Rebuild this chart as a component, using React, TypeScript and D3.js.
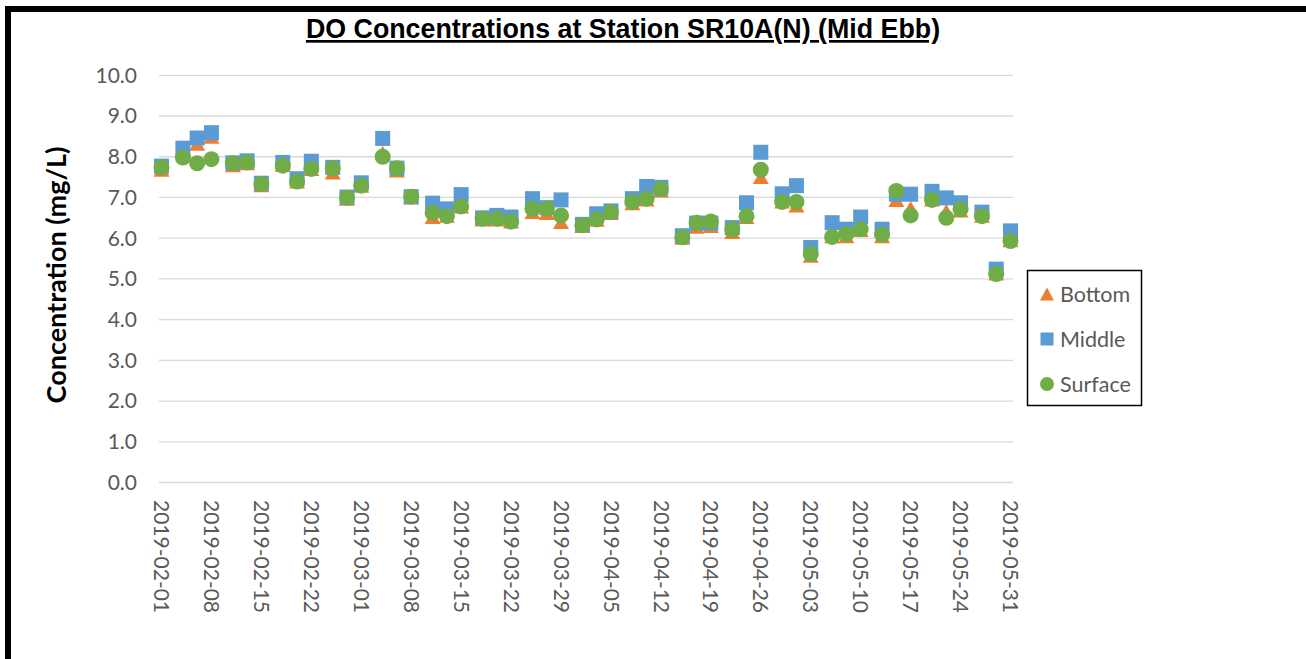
import React, { useEffect, useRef } from 'react';
import * as d3 from 'd3';

// Sampling dates (Mid Ebb) at station SR10A(N)
const dates = [
  '2019-02-01', '2019-02-04', '2019-02-06', '2019-02-08', '2019-02-11', '2019-02-13', '2019-02-15',
  '2019-02-18', '2019-02-20', '2019-02-22', '2019-02-25', '2019-02-27',
  '2019-03-01', '2019-03-04', '2019-03-06', '2019-03-08', '2019-03-11', '2019-03-13', '2019-03-15',
  '2019-03-18', '2019-03-20', '2019-03-22', '2019-03-25', '2019-03-27', '2019-03-29',
  '2019-04-01', '2019-04-03', '2019-04-05', '2019-04-08', '2019-04-10', '2019-04-12', '2019-04-15',
  '2019-04-17', '2019-04-19', '2019-04-22', '2019-04-24', '2019-04-26', '2019-04-29',
  '2019-05-01', '2019-05-03', '2019-05-06', '2019-05-08', '2019-05-10', '2019-05-13', '2019-05-15',
  '2019-05-17', '2019-05-20', '2019-05-22', '2019-05-24', '2019-05-27', '2019-05-29', '2019-05-31',
];

const bottom = [
  7.68, 8.2, 8.32, 8.49, 7.79, 7.84, 7.3, 7.8, 7.39, 7.7, 7.61, 6.97,
  7.29, 8.1, 7.66, 7.0, 6.52, 6.55, 6.78, 6.46, 6.46, 6.41, 6.64, 6.62, 6.4,
  6.3, 6.45, 6.62, 6.86, 6.95, 7.17, 6.01, 6.28, 6.3, 6.15, 6.52, 7.5, 6.9,
  6.8, 5.57, 6.05, 6.05, 6.2, 6.05, 6.94, 6.74, 6.95, 6.67, 6.68, 6.55, 5.13, 5.95,
];

const middle = [
  7.77, 8.21, 8.46, 8.59, 7.85, 7.9, 7.35, 7.86, 7.46, 7.89, 7.74, 7.01,
  7.36, 8.45, 7.72, 7.02, 6.86, 6.72, 7.07, 6.5, 6.56, 6.52, 6.97, 6.75, 6.94,
  6.34, 6.6, 6.67, 6.97, 7.27, 7.25, 6.06, 6.37, 6.37, 6.26, 6.87, 8.11, 7.09,
  7.29, 5.77, 6.38, 6.22, 6.52, 6.22, 7.08, 7.08, 7.15, 6.99, 6.87, 6.64, 5.24, 6.18,
];

const surface = [
  7.74, 7.98, 7.84, 7.94, 7.84, 7.86, 7.33, 7.78, 7.39, 7.7, 7.72, 6.99,
  7.29, 8.0, 7.72, 7.02, 6.62, 6.54, 6.78, 6.48, 6.48, 6.41, 6.72, 6.73, 6.56,
  6.32, 6.46, 6.64, 6.89, 6.97, 7.21, 6.02, 6.38, 6.41, 6.22, 6.54, 7.68, 6.89,
  6.89, 5.61, 6.03, 6.1, 6.22, 6.09, 7.16, 6.56, 6.94, 6.5, 6.71, 6.54, 5.12, 5.93,
];

const tickDates = [
  '2019-02-01', '2019-02-08', '2019-02-15', '2019-02-22', '2019-03-01', '2019-03-08', '2019-03-15',
  '2019-03-22', '2019-03-29', '2019-04-05', '2019-04-12', '2019-04-19', '2019-04-26', '2019-05-03',
  '2019-05-10', '2019-05-17', '2019-05-24', '2019-05-31',
];
const yTicks = [0, 1, 2, 3, 4, 5, 6, 7, 8, 9, 10];

const W = 1306;
const H = 659;
const FONT = 'Lato, sans-serif';
const TEXT = '#595959';

export default function App() {
  const svgRef = useRef<SVGSVGElement | null>(null);

  useEffect(() => {
    const parse = d3.utcParse('%Y-%m-%d');
    const svg = d3.select(svgRef.current);
    svg.selectAll('*').remove();
    svg.attr('width', W).attr('height', H);

    svg.append('rect').attr('width', W).attr('height', H).attr('fill', '#fff');
    // outer frame (runs off right/bottom edges)
    svg.append('rect').attr('x', 8).attr('y', 9).attr('width', W + 20).attr('height', H + 20)
      .attr('fill', 'none').attr('stroke', '#000').attr('stroke-width', 6);

    const x = d3.scaleUtc().domain([parse(dates[0])!, parse(dates[dates.length - 1])!]).range([161.5, 1010.5]);
    const y = d3.scaleLinear().domain([0, 10]).range([482.5, 75.3]);
    const gridX0 = 159;
    const gridX1 = 1013;

    // Grid
    svg.append('g').selectAll('line').data(yTicks).join('line')
      .attr('x1', gridX0).attr('x2', gridX1)
      .attr('y1', d => y(d)).attr('y2', d => y(d))
      .attr('stroke', '#d9d9d9').attr('stroke-width', 1.3);

    // Y tick labels
    svg.append('g').selectAll('text').data(yTicks).join('text')
      .attr('x', 137).attr('y', d => y(d)).attr('dy', '0.35em')
      .attr('text-anchor', 'end').attr('font-family', FONT).attr('font-size', 21).attr('fill', TEXT)
      .text(d => d.toFixed(1));

    // X tick labels (rotated)
    svg.append('g').selectAll('text').data(tickDates).join('text')
      .attr('transform', d => `translate(${x(parse(d)!)},500) rotate(90)`)
      .attr('dy', '0.35em').attr('text-anchor', 'start')
      .attr('font-family', FONT).attr('font-size', 21).attr('fill', TEXT)
      .text(d => d);

    const rows = dates.map((d, i) => ({ t: parse(d)!, b: bottom[i], m: middle[i], s: surface[i] }));
    const tri = (cx: number, cy: number, hw: number, hh: number) =>
      `M${cx},${cy - hh}L${cx + hw},${cy + hh}L${cx - hw},${cy + hh}Z`;

    // Bottom (triangles)
    svg.append('g').selectAll('path').data(rows).join('path')
      .attr('d', d => tri(x(d.t), y(d.b), 8, 7)).attr('fill', '#ed7d31');
    // Middle (squares)
    svg.append('g').selectAll('rect').data(rows).join('rect')
      .attr('x', d => x(d.t) - 7.5).attr('y', d => y(d.m) - 7.5)
      .attr('width', 15).attr('height', 15).attr('fill', '#5b9bd5');
    // Surface (circles)
    svg.append('g').selectAll('circle').data(rows).join('circle')
      .attr('cx', d => x(d.t)).attr('cy', d => y(d.s)).attr('r', 8).attr('fill', '#70ad47');

    // Title
    svg.append('text').attr('x', 623).attr('y', 38).attr('text-anchor', 'middle')
      .attr('font-family', '"Liberation Sans", Arial, sans-serif').attr('font-weight', 'bold')
      .attr('font-size', 26.8).attr('text-decoration', 'underline').attr('fill', '#000')
      .text('DO Concentrations at Station SR10A(N) (Mid Ebb)');

    // Y axis title
    svg.append('text').attr('transform', 'translate(57,275) rotate(-90)')
      .attr('text-anchor', 'middle').attr('dy', '0.35em')
      .attr('font-family', FONT).attr('font-weight', 'bold').attr('font-size', 27).attr('fill', '#000')
      .text('Concentration (mg/L)');

    // Legend
    const lg = svg.append('g');
    lg.append('rect').attr('x', 1027.5).attr('y', 270.5).attr('width', 114).attr('height', 135)
      .attr('fill', '#fff').attr('stroke', '#000').attr('stroke-width', 1.5);
    const items = [
      { name: 'Bottom', cy: 294, kind: 'tri', color: '#ed7d31' },
      { name: 'Middle', cy: 339, kind: 'sq', color: '#5b9bd5' },
      { name: 'Surface', cy: 384, kind: 'circ', color: '#70ad47' },
    ];
    items.forEach(it => {
      if (it.kind === 'tri') lg.append('path').attr('d', tri(1047, it.cy, 7, 6.5)).attr('fill', it.color);
      else if (it.kind === 'sq') lg.append('rect').attr('x', 1040.5).attr('y', it.cy - 6.5).attr('width', 13).attr('height', 13).attr('fill', it.color);
      else lg.append('circle').attr('cx', 1047).attr('cy', it.cy).attr('r', 7).attr('fill', it.color);
      lg.append('text').attr('x', 1060).attr('y', it.cy).attr('dy', '0.35em')
        .attr('font-family', FONT).attr('font-size', 21.5).attr('fill', TEXT).text(it.name);
    });
  }, []);

  return (
    <div style={{ position: 'absolute', left: 0, top: 0 }}>
      <svg ref={svgRef} style={{ display: 'block' }} />
    </div>
  );
}
